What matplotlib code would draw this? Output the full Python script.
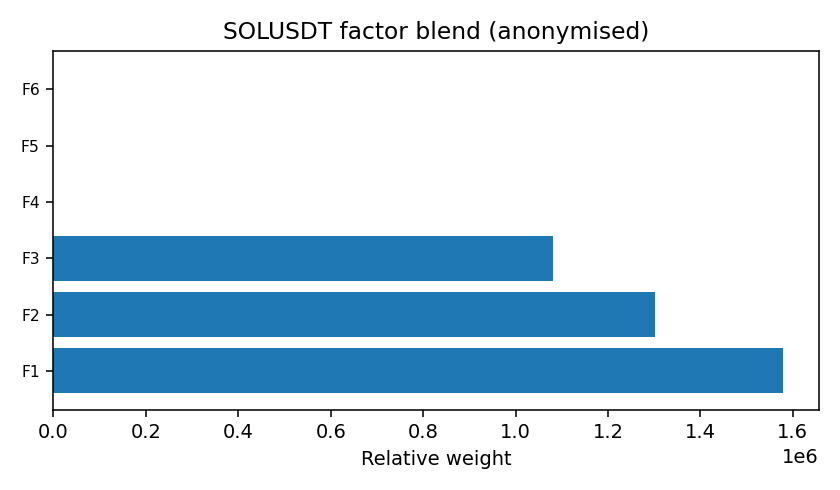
import matplotlib
matplotlib.use("Agg")
import matplotlib.pyplot as plt

factors = ["F1", "F2", "F3", "F4", "F5", "F6"]
weights = [1.578e6, 1.303e6, 1.082e6, 0, 0, 0]

fig, ax = plt.subplots(figsize=(6, 3.5), dpi=140)
ax.barh(factors, weights, color="#1f77b4")
ax.set_title("SOLUSDT factor blend (anonymised)")
ax.set_xlabel("Relative weight")
ax.tick_params(axis="y", labelsize=8)

plt.tight_layout()
plt.savefig("out.png", dpi=140)
